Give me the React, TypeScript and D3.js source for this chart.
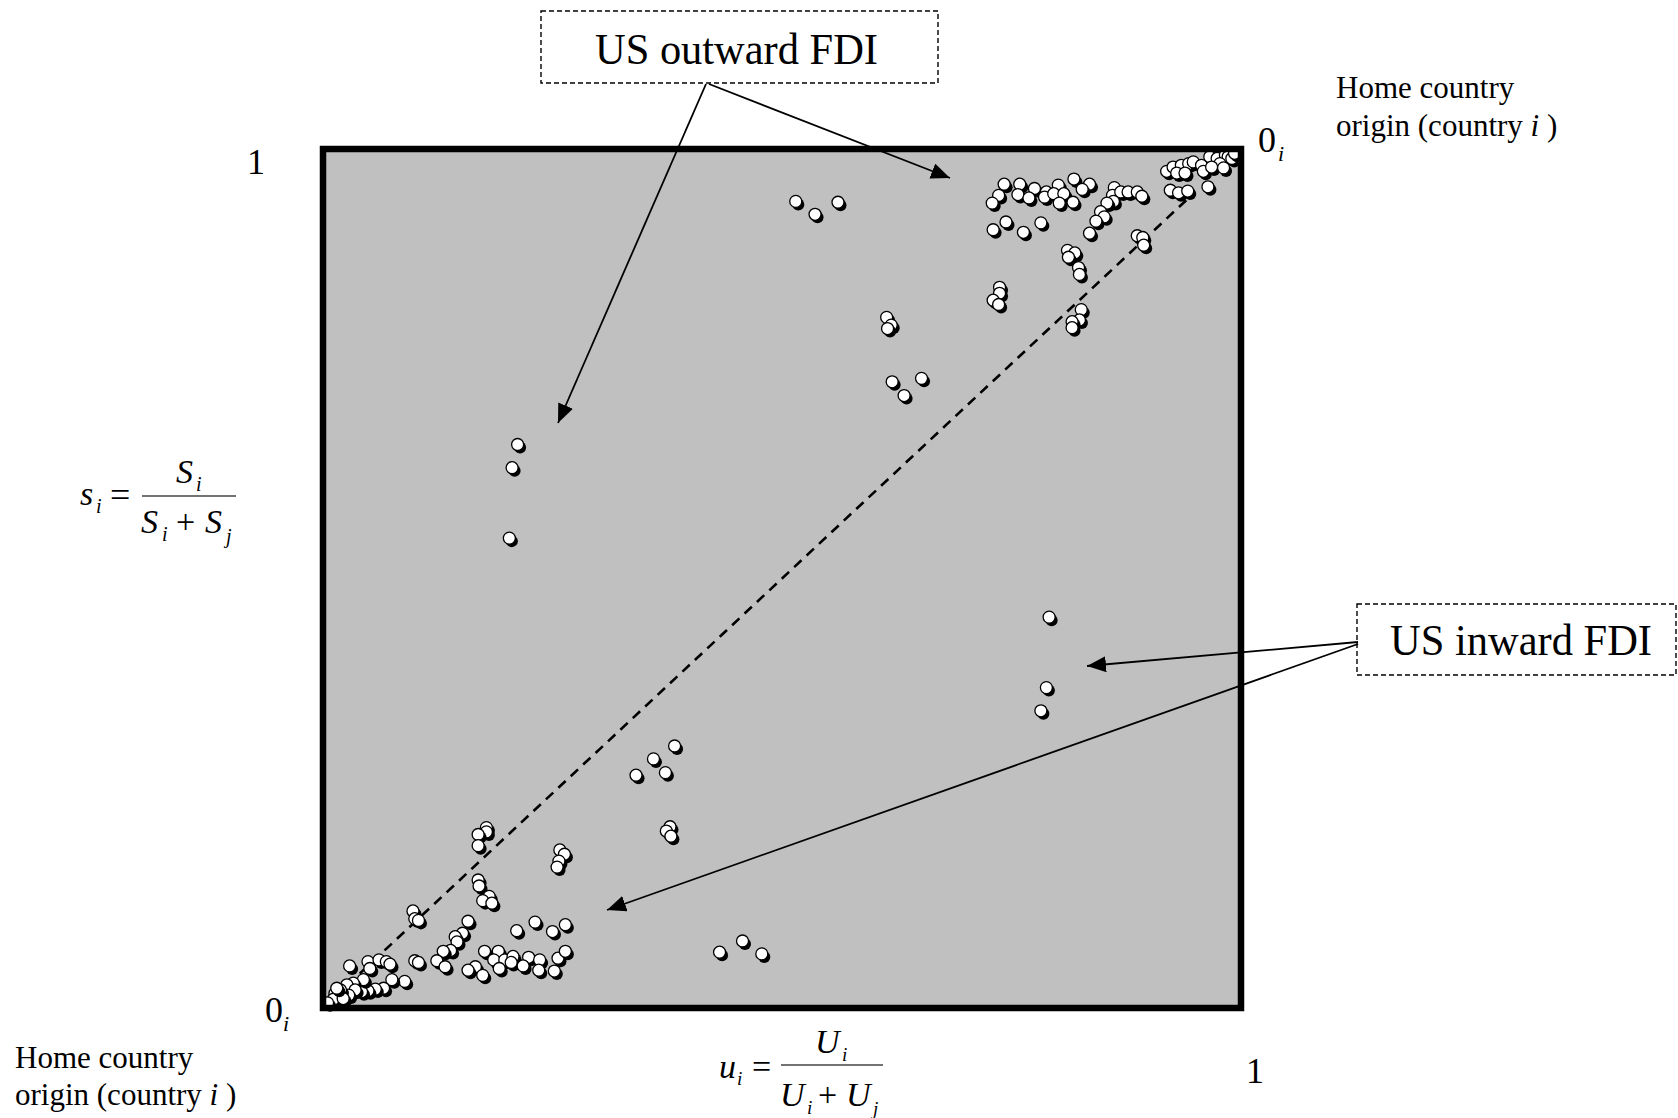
import React from "react";
import * as d3 from "d3";

// [u_i, s_i] pairs
const outwardScattered = [
  [0.212, 0.656], [0.206, 0.629], [0.203, 0.547], [0.515, 0.939], [0.536, 0.924], [0.561, 0.938],
  [0.614, 0.804], [0.619, 0.795], [0.615, 0.791], [0.62, 0.729], [0.652, 0.733], [0.633, 0.713],
];

const outwardTop = [
  [0.742, 0.959], [0.759, 0.959], [0.736, 0.946], [0.729, 0.937], [0.775, 0.954], [0.757, 0.947],
  [0.769, 0.943], [0.788, 0.95], [0.786, 0.944], [0.801, 0.958], [0.796, 0.948], [0.807, 0.948],
  [0.802, 0.937], [0.817, 0.938], [0.818, 0.965], [0.835, 0.959], [0.827, 0.953], [0.862, 0.955],
  [0.86, 0.946], [0.869, 0.95], [0.877, 0.95], [0.887, 0.95], [0.892, 0.945], [0.861, 0.939],
  [0.854, 0.937], [0.847, 0.927], [0.851, 0.921], [0.842, 0.916], [0.835, 0.902], [0.73, 0.906],
  [0.744, 0.915], [0.763, 0.903], [0.782, 0.914], [0.887, 0.899], [0.893, 0.897], [0.894, 0.888],
  [0.811, 0.882], [0.819, 0.879], [0.812, 0.874], [0.823, 0.862], [0.824, 0.854], [0.737, 0.839],
  [0.737, 0.832], [0.73, 0.824], [0.736, 0.819], [0.826, 0.813], [0.824, 0.801], [0.816, 0.799],
  [0.816, 0.792],
];

const outwardCorner = [
  [0.923, 0.952], [0.932, 0.949], [0.942, 0.951], [0.964, 0.956], [0.919, 0.974], [0.926, 0.979],
  [0.935, 0.981], [0.943, 0.983], [0.93, 0.972], [0.939, 0.972], [0.948, 0.985], [0.957, 0.981],
  [0.959, 0.974], [0.966, 0.991], [0.974, 0.989], [0.983, 0.993], [0.986, 0.991], [0.977, 0.983],
  [0.968, 0.979], [0.981, 0.978], [0.99, 0.989], [0.993, 0.995],
];

const inwardScattered = [
  [0.383, 0.305], [0.36, 0.29], [0.341, 0.271], [0.373, 0.274], [0.378, 0.211], [0.374, 0.206],
  [0.379, 0.2], [0.258, 0.184], [0.263, 0.179], [0.257, 0.171], [0.255, 0.164], [0.432, 0.065],
  [0.457, 0.078], [0.478, 0.063], [0.791, 0.455], [0.788, 0.373], [0.782, 0.346],
];

const inwardLow = [
  [0.178, 0.21], [0.178, 0.205], [0.169, 0.202], [0.169, 0.189], [0.169, 0.149], [0.17, 0.142],
  [0.181, 0.13], [0.174, 0.125], [0.184, 0.122], [0.098, 0.113], [0.1, 0.104], [0.104, 0.102],
  [0.158, 0.101], [0.152, 0.087], [0.144, 0.083], [0.146, 0.077], [0.139, 0.067], [0.131, 0.066],
  [0.124, 0.055], [0.133, 0.048], [0.1, 0.055], [0.104, 0.053], [0.211, 0.09], [0.231, 0.1],
  [0.25, 0.089], [0.264, 0.097], [0.176, 0.066], [0.191, 0.066], [0.186, 0.056], [0.198, 0.056],
  [0.207, 0.06], [0.205, 0.053], [0.224, 0.059], [0.218, 0.049], [0.236, 0.056], [0.235, 0.044],
  [0.256, 0.058], [0.264, 0.066], [0.252, 0.043], [0.192, 0.046], [0.166, 0.048], [0.158, 0.044],
  [0.174, 0.038],
];

const inwardCorner = [
  [0.029, 0.049], [0.049, 0.054], [0.061, 0.056], [0.069, 0.054], [0.073, 0.051], [0.051, 0.046],
  [0.089, 0.031], [0.075, 0.033], [0.066, 0.023], [0.057, 0.022], [0.049, 0.02], [0.042, 0.019],
  [0.044, 0.033], [0.033, 0.029], [0.026, 0.027], [0.035, 0.021], [0.028, 0.015], [0.019, 0.021],
  [0.013, 0.017], [0.011, 0.01], [0.022, 0.011], [0.015, 0.023], [0.005, 0.006],
];

const W = 1678;
const H = 1118;
const serif = "'Liberation Serif', 'Times New Roman', serif";

export default function App() {
  const x = d3.scaleLinear().domain([0, 1]).range([323, 1241]);
  const y = d3.scaleLinear().domain([0, 1]).range([1008, 149]);

  const points = [
    ...inwardCorner, ...inwardLow, ...inwardScattered,
    ...outwardScattered, ...outwardTop, ...outwardCorner,
  ];

  const diag = d3.line<number[]>().x(d => x(d[0])).y(d => y(d[1]));

  return (
    <svg width={W} height={H} style={{ position: "absolute", left: 0, top: 0, display: "block" }}
      fontFamily={serif}>
      <defs>
        <marker id="head" markerUnits="userSpaceOnUse" markerWidth={20} markerHeight={16}
          refX={19} refY={8} orient="auto">
          <path d="M0,0 L19,8 L0,16 Z" fill="#000" />
        </marker>
      </defs>
      <rect width={W} height={H} fill="#fff" />

      {/* plot area */}
      <rect x={x(0)} y={y(1)} width={x(1) - x(0)} height={y(0) - y(1)} fill="#c0c0c0" />
      <path d={diag([[0.04, 0.04], [0.945, 0.945]]) || ""} stroke="#000" strokeWidth={2.6}
        strokeDasharray="10,7" fill="none" />

      {points.map((d, i) => (
        <g key={i}>
          <circle cx={x(d[0]) + 2.5} cy={y(d[1]) + 3} r={6} fill="#000" />
          <circle cx={x(d[0])} cy={y(d[1])} r={6} fill="#fff" stroke="#000" strokeWidth={1.3} />
        </g>
      ))}

      <rect x={x(0)} y={y(1)} width={x(1) - x(0)} height={y(0) - y(1)} fill="none"
        stroke="#000" strokeWidth={6.5} />

      {/* US outward FDI callout */}
      <rect x={541} y={11} width={397} height={72} fill="#fff" stroke="#000" strokeWidth={1.4}
        strokeDasharray="5,3" />
      <text x={595} y={64} fontSize={45} textLength={283} lengthAdjust="spacingAndGlyphs">US outward FDI</text>
      <line x1={706} y1={84} x2={558} y2={423} stroke="#000" strokeWidth={1.8} markerEnd="url(#head)" />
      <line x1={709} y1={84} x2={950} y2={178} stroke="#000" strokeWidth={1.8} markerEnd="url(#head)" />

      {/* US inward FDI callout */}
      <rect x={1357} y={604} width={319} height={71} fill="#fff" stroke="#000" strokeWidth={1.4}
        strokeDasharray="5,3" />
      <text x={1390} y={655} fontSize={45} textLength={262} lengthAdjust="spacingAndGlyphs">US inward FDI</text>
      <line x1={1358} y1={642} x2={1087} y2={666} stroke="#000" strokeWidth={1.8} markerEnd="url(#head)" />
      <line x1={1358} y1={644} x2={607} y2={910} stroke="#000" strokeWidth={1.8} markerEnd="url(#head)" />

      {/* corner labels */}
      <text x={247} y={174} fontSize={36}>1</text>
      <text x={1258} y={152} fontSize={36}>0</text>
      <text x={1278} y={161} fontSize={22} fontStyle="italic">i</text>
      <text x={265} y={1022} fontSize={36}>0</text>
      <text x={283} y={1031} fontSize={22} fontStyle="italic">i</text>
      <text x={1246} y={1083} fontSize={36}>1</text>

      <text x={1336} y={98} fontSize={31}>Home country</text>
      <text x={1336} y={136} fontSize={31}>origin (country <tspan fontStyle="italic">i</tspan> )</text>
      <text x={15} y={1068} fontSize={31}>Home country</text>
      <text x={15} y={1105} fontSize={31}>origin (country <tspan fontStyle="italic">i</tspan> )</text>

      {/* vertical axis formula */}
      <text x={80} y={505} fontSize={34} fontStyle="italic">s</text>
      <text x={96} y={513} fontSize={20} fontStyle="italic">i</text>
      <text x={110} y={507} fontSize={36}>=</text>
      <line x1={142} x2={236} y1={496} y2={496} stroke="#444" strokeWidth={1.3} />
      <text x={176} y={483} fontSize={34} fontStyle="italic">S</text>
      <text x={196} y={491} fontSize={20} fontStyle="italic">i</text>
      <text x={141} y={533} fontSize={34} fontStyle="italic">S</text>
      <text x={162} y={541} fontSize={20} fontStyle="italic">i</text>
      <text x={176} y={533} fontSize={34}>+</text>
      <text x={205} y={533} fontSize={34} fontStyle="italic">S</text>
      <text x={226} y={543} fontSize={20} fontStyle="italic">j</text>

      {/* horizontal axis formula */}
      <text x={719} y={1078} fontSize={34} fontStyle="italic">u</text>
      <text x={737} y={1085} fontSize={19} fontStyle="italic">i</text>
      <text x={752} y={1078} fontSize={34}>=</text>
      <line x1={781} x2={883} y1={1065} y2={1065} stroke="#444" strokeWidth={1.3} />
      <text x={815} y={1053} fontSize={34} fontStyle="italic">U</text>
      <text x={842} y={1061} fontSize={19} fontStyle="italic">i</text>
      <text x={780} y={1106} fontSize={34} fontStyle="italic">U</text>
      <text x={807} y={1114} fontSize={19} fontStyle="italic">i</text>
      <text x={818} y={1106} fontSize={34}>+</text>
      <text x={846} y={1106} fontSize={34} fontStyle="italic">U</text>
      <text x={873} y={1115} fontSize={19} fontStyle="italic">j</text>
    </svg>
  );
}
